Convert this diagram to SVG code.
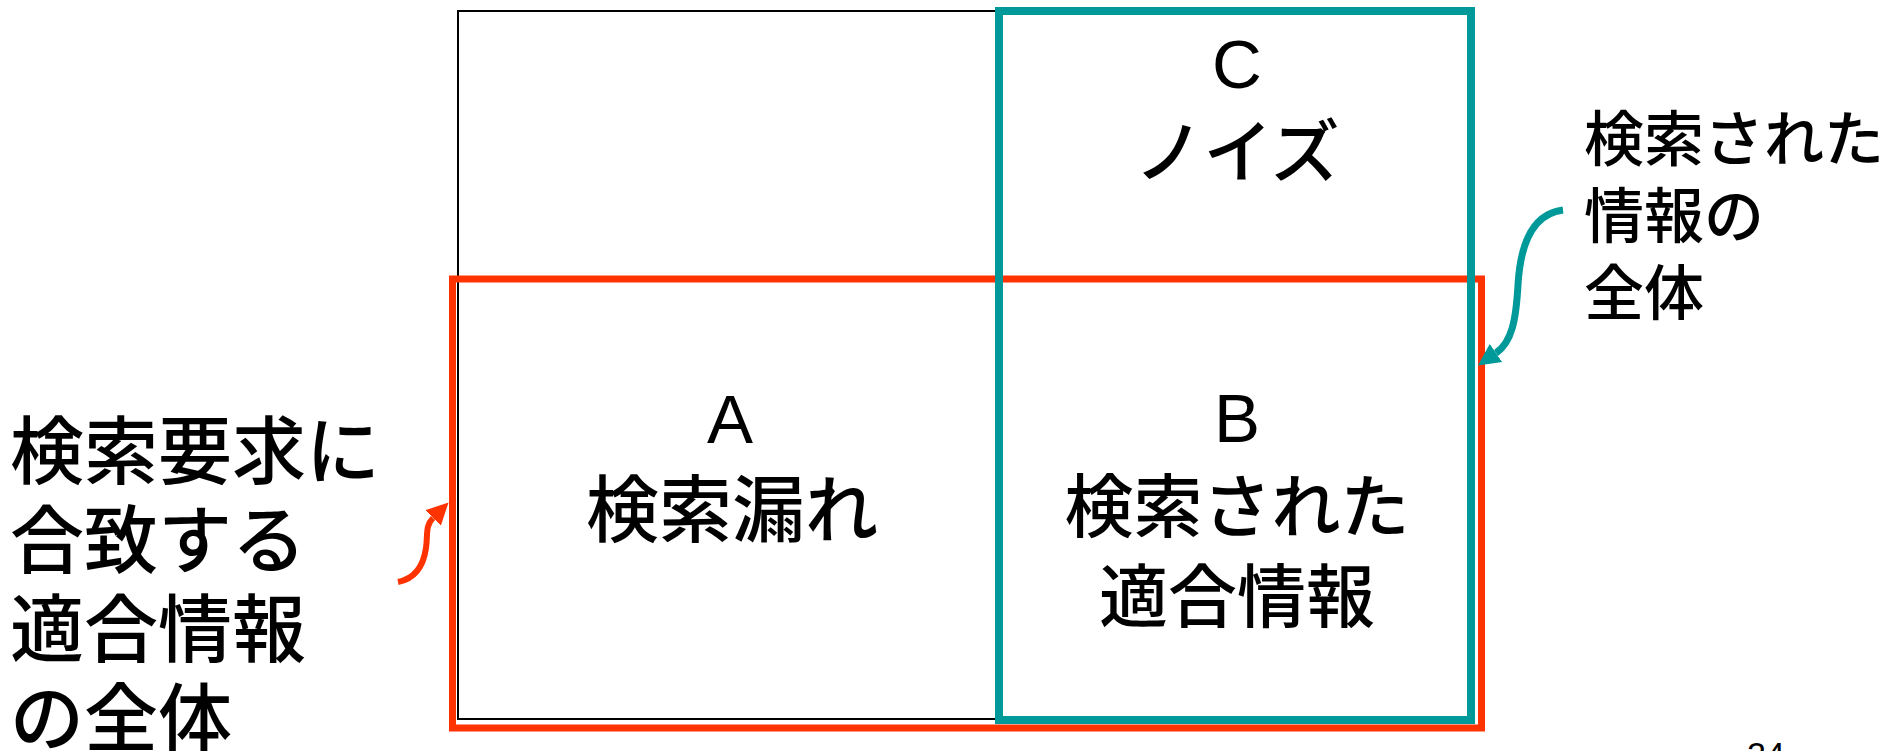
<svg xmlns="http://www.w3.org/2000/svg" width="1886" height="751" viewBox="0 0 1886 751">
<style>
text{font-family:"Liberation Sans","Noto Sans CJK JP",sans-serif;fill:#000;font-weight:500}
.mid{font-size:69px;text-anchor:middle}
.grid{fill:none;stroke:#000;stroke-width:2}
.red{fill:none;stroke:#FF3300;stroke-width:7}
.teal{fill:none;stroke:#009999;stroke-width:8}
.redc{fill:none;stroke:#FF3300;stroke-width:6}
.tealc{fill:none;stroke:#009999;stroke-width:7}
</style>
<defs>
<marker id="ahRed" viewBox="0 0 10 10" refX="0" refY="5" markerUnits="userSpaceOnUse" markerWidth="22" markerHeight="22" orient="auto"><path d="M0,0 L10,5 L0,10 z" fill="#FF3300"/></marker>
<marker id="ahTeal" viewBox="0 0 10 10" refX="0" refY="5" markerUnits="userSpaceOnUse" markerWidth="22" markerHeight="24" orient="auto"><path d="M0,0 L10,5 L0,10 z" fill="#009999"/></marker>
</defs>
<rect width="1886" height="751" fill="#fff"/>
<g id="table">
<rect class="grid" x="458" y="11" width="1012" height="708"/>
<line class="grid" x1="1001" y1="11" x2="1001" y2="719"/>
<line class="grid" x1="458" y1="281" x2="1470" y2="281"/>
</g>
<g id="relevant">
<rect class="red" x="452.5" y="279" width="1029" height="449"/>
</g>
<g id="retrieved">
<rect class="teal" x="999" y="11" width="472" height="709"/>
</g>
<g id="cellC">
<text class="mid" x="1237" y="88">C</text>
<text class="mid" x="1237" y="177">ノイズ</text>
</g>
<g id="cellA">
<text class="mid" x="730" y="443">A</text>
<text class="mid" x="732" y="536" style="font-size:73px">検索漏れ</text>
</g>
<g id="cellB">
<text class="mid" x="1237" y="442">B</text>
<text class="mid" x="1237" y="532">検索された</text>
<text class="mid" x="1237" y="622">適合情報</text>
</g>
<g id="labelRelevant">
<text x="10" y="478" font-size="74">検索要求に</text>
<text x="10" y="567" font-size="74">合致する</text>
<text x="10" y="656" font-size="74">適合情報</text>
<text x="10" y="745" font-size="74">の全体</text>
</g>
<g id="labelRetrieved">
<text x="1584" y="161" font-size="60">検索された</text>
<text x="1584" y="238" font-size="60">情報の</text>
<text x="1584" y="315" font-size="60">全体</text>
</g>
<g id="pageNumber">
<text x="1747" y="766" font-size="34" fill="#333">24</text>
</g>
<g id="connectors">
<path class="redc" d="M398,582 C418,578 424,562 426,548 C428,534 425,526 433,518" marker-end="url(#ahRed)"/>
<path class="tealc" d="M1563,210 C1530,214 1520,250 1518,285 C1516,320 1512,342 1496,353" marker-end="url(#ahTeal)"/>
</g>
</svg>
